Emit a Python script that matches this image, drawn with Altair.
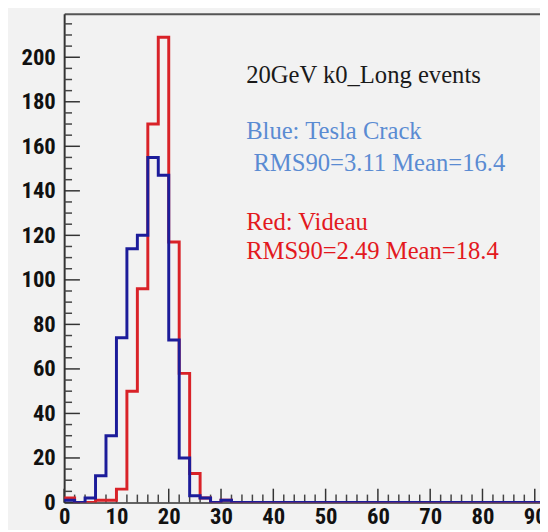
import altair as alt
import pandas as pd

# ---- data (bins of width 2) ----
bin_low = list(range(0, 100, 2))
blue_counts = [1, 0, 2, 12, 30, 74, 114, 120, 155, 147, 73, 20, 3, 2, 0, 1] + [0] * 34
red_counts = [2, 0, 0, 1, 1, 6, 50, 96, 170, 209, 117, 58, 13, 2, 0, 1] + [0] * 34

x_major = [0, 10, 20, 30, 40, 50, 60, 70, 80, 90]
x_minor = [v for v in range(0, 92, 2) if v % 10 != 0]
y_major = [0, 20, 40, 60, 80, 100, 120, 140, 160, 180, 200]
y_minor = [v for v in range(0, 220, 5) if v % 20 != 0]

ann_text = ["20GeV k0_Long events", "Blue: Tesla Crack", "RMS90=3.11 Mean=16.4",
            "Red: Videau", "RMS90=2.49 Mean=18.4"]
ann_x = [34.8, 34.8, 36.2, 34.8, 34.8]
ann_y = [188.5, 163.3, 149.1, 122.6, 109.3]
ann_color = ["#1a1a1a", "#5a8bd2", "#5a8bd2", "#e3191e", "#e3191e"]

X_MAX = 91.0
Y_MAX = 219.5


def step_frame(counts, name):
    xs = bin_low + [100]
    ys = counts + [counts[-1]]
    return pd.DataFrame({"x": xs, "y": ys, "series": name})


hist = pd.concat([step_frame(red_counts, "Videau"), step_frame(blue_counts, "Tesla Crack")])

xs = alt.Scale(domain=[0, X_MAX], nice=False, zero=False)
ys = alt.Scale(domain=[0, Y_MAX], nice=False, zero=False)

LABEL_FONT = ("Liberation Sans Narrow, Arial Narrow, Roboto Condensed, Noto Sans Condensed, "
              "DejaVu Sans Condensed, Liberation Sans, Arial")

x_axis = alt.Axis(orient="bottom", values=x_major, ticks=False, tickSize=0, grid=False,
                  labelFont=LABEL_FONT, labelFontWeight="bold", labelFontSize=23,
                  labelColor="#111111", labelPadding=3, labelFlush=False,
                  labelOverlap=False, domainColor="#333333", domainWidth=1.5, title=None,
                  format="d")
y_axis = alt.Axis(orient="left", values=y_major, ticks=False, tickSize=0, grid=False,
                  labelFont=LABEL_FONT, labelFontWeight="bold", labelFontSize=23,
                  labelColor="#111111", labelPadding=9, labelOverlap=False,
                  domainColor="#333333", domainWidth=2, title=None, format="d")

red_line = alt.Chart(hist).transform_filter(alt.datum.series == "Videau").mark_line(
    interpolate="step-after", color="#d92228", strokeWidth=3, clip=True, strokeJoin="miter"
).encode(x=alt.X("x:Q", scale=xs, axis=x_axis), y=alt.Y("y:Q", scale=ys, axis=y_axis))

blue_line = alt.Chart(hist).transform_filter(alt.datum.series == "Tesla Crack").mark_line(
    interpolate="step-after", color="#1c1c9a", strokeWidth=3, clip=True, strokeJoin="miter"
).encode(x=alt.X("x:Q", scale=xs, axis=None), y=alt.Y("y:Q", scale=ys, axis=None))

top_frame = alt.Chart(pd.DataFrame({"x": [0]})).mark_point(opacity=0).encode(
    x=alt.X("x:Q", scale=xs, axis=alt.Axis(orient="top", labels=False, ticks=False, tickSize=0,
                                            grid=False, domainColor="#555555", domainWidth=2,
                                            title=None))
)

ymaj = alt.Chart(pd.DataFrame({"v": y_major})).mark_rule(color="#333333", strokeWidth=1.5).encode(
    y=alt.Y("v:Q", scale=ys, axis=None), x=alt.value(0), x2=alt.value(16))
ymin = alt.Chart(pd.DataFrame({"v": y_minor})).mark_rule(color="#444444", strokeWidth=1.5).encode(
    y=alt.Y("v:Q", scale=ys, axis=None), x=alt.value(0), x2=alt.value(8))
xmaj = alt.Chart(pd.DataFrame({"v": x_major})).mark_rule(color="#333333", strokeWidth=1.5).encode(
    x=alt.X("v:Q", scale=xs, axis=None), y=alt.value(496), y2=alt.value(482))
xmin = alt.Chart(pd.DataFrame({"v": x_minor})).mark_rule(color="#444444", strokeWidth=1.5).encode(
    x=alt.X("v:Q", scale=xs, axis=None), y=alt.value(496), y2=alt.value(488))

ann = alt.Chart(pd.DataFrame({"t": ann_text, "x": ann_x, "y": ann_y, "c": ann_color})).mark_text(
    align="left", baseline="alphabetic", font="Liberation Serif", fontSize=25
).encode(
    x=alt.X("x:Q", scale=xs, axis=None),
    y=alt.Y("y:Q", scale=ys, axis=None),
    text="t:N",
    color=alt.Color("c:N", scale=None),
)

chart = alt.layer(ymin, ymaj, xmin, xmaj, red_line, blue_line, top_frame, ann).resolve_axis(
    x="independent", y="independent"
).properties(
    width=483, height=496,
    autosize=alt.AutoSizeParams(type="none"),
    padding={"left": 57, "top": 2, "right": 0, "bottom": 24},
    background="#f2f2f2",
).configure_view(strokeWidth=0)

chart.save("out.html", embed_options={"renderer": "svg", "actions": False})
